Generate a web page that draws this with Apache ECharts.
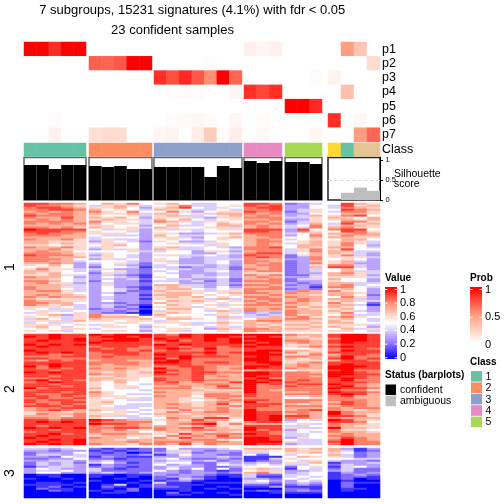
<!DOCTYPE html>
<html><head><meta charset="utf-8">
<script src="https://cdn.jsdelivr.net/npm/echarts@6/dist/echarts.min.js"></script>
<style>html,body{margin:0;padding:0;background:#fff}#c{width:504px;height:504px}</style>
</head><body><div id="c"></div>
<script>
// Heatmap rows. Each digit is a value in tenths (A = 1.0); spaces separate sample groups.
const slice1 = [
"99887 57685 6754455 998 234 5976","98876 46764 5684456 989 335 4967","89987 66753 6795465 899 335 4876",
"88998 75654 7654454 889 346 5987","78787 86585 5863566 988 246 4886","87887 76674 7656477 878 335 5776",
"98887 65564 6744567 787 347 6895","87797 76753 6664366 888 446 7657","78787 67664 7575456 778 336 6767",
"88887 86654 8764665 887 246 5886","87878 75664 6654576 878 347 4967","77777 66553 5744577 787 458 6776",
"88786 76564 7655664 787 448 7866","A9999 54663 6464566 999 395 8995","99988 65543 5554555 998 386 5986",
"89887 66653 6633467 888 457 7787","88877 54443 7544556 788 358 6877","77777 45553 6643567 778 557 7766",
"87786 46443 5654565 787 456 5775","77666 36542 6533455 788 567 6764","77676 66653 5664665 787 467 6864",
"66566 56753 5555465 787 577 6853","87786 46553 6744543 889 576 7754","77866 36463 7644554 888 468 6955",
"78775 55564 4553663 788 468 7744","88876 46553 5553354 899 457 7643","98886 36543 6644543 988 267 6843",
"88777 46543 5543443 898 238 6664","88875 36453 6533444 877 338 5653","88774 55543 6433453 887 237 6743",
"77873 45642 5633453 878 238 6733","65753 35432 4544343 788 236 8843","56653 25541 4423342 778 237 9943",
"68664 46332 5443442 878 234 5753","77654 35632 4533453 788 234 5744","76755 26432 5433343 666 233 7864",
"66764 34321 5534343 878 224 7763","87753 35431 6534453 787 336 6664","77654 34342 5443342 778 244 7553",
"88754 25331 4434242 888 233 6553","78663 34332 5533343 778 323 7744","77744 36332 7744342 887 232 7845",
"87764 35321 6764353 778 331 8854","87754 35431 6775454 888 232 6753","78864 35422 7666466 877 387 8653",
"77765 34232 6776567 887 877 7763","78776 35331 7775656 778 776 7752","87877 34332 6767565 887 877 5863",
"76666 34331 6666474 788 787 7743","87766 35332 5767656 878 787 6764","88775 33232 7666565 787 876 8652",
"87674 34321 5765646 888 776 7741","66654 34230 6664565 777 867 7653","65464 23321 5775656 878 776 6753",
"56645 33230 4665474 877 877 7643","46556 32210 6765566 343 877 6854","56736 86651 7555465 434 867 5744",
"65646 87775 6665574 447 786 7865","47546 76667 5776546 577 887 6754","66647 66566 4655565 788 776 7654",
"45465 55665 6664476 767 667 7755","66656 46554 5564565 776 776 6664","67545 56653 6555464 767 667 7653",
"56566 45554 5665376 887 776 5746","65645 56653 5645565 877 666 6654"
];
const slice2 = [
"99A99 A9AAA 98A9AAA AAA 877 9AA9","A9A99 9AA9A 99A9AA9 9A9 767 9AA9","99A9A 99AA9 A999A9A AAA 776 8AA9",
"9A99A 9AAA9 9A89A9A 9AA 887 9AA9","99999 A9999 899999A A9A 787 9A99","A9A9A 99999 A9A9999 9AA 667 8999",
"9A999 89998 9989989 A99 678 9A99","99999 98988 9A98A88 999 556 8998","A9999 99989 8988988 9AA 776 8A99",
"9A9A9 89998 9999A89 AA9 867 9999","99889 88998 A998988 AAA 668 7998","88899 89888 99A9998 9A9 887 8A88",
"99888 88888 A8A8888 AA9 767 9A89","87989 78877 9A98888 AA9 666 7998","99999 88887 AA98998 9AA 678 9999",
"99A99 87887 9998888 99A 787 9A99","A8A99 77777 8899877 AA9 787 AAA9","98989 87876 A889878 A99 877 AA99",
"99899 77766 9989877 788 566 9A88","A9A99 76767 A889988 AA9 887 AA98","99999 87766 9989877 AA9 888 AA99",
"99899 66766 8889787 A99 887 A998","88999 77665 9889777 9A8 888 9A98","9A898 76765 9889887 A9A 898 9A88",
"89A99 65755 8978779 AA9 988 9998","99899 65654 8877887 A89 899 A987","99989 65665 7787797 A88 988 9A87",
"A8999 75645 8886788 A88 888 A998","89999 65554 7777666 A87 888 9886","99989 86555 8776777 A88 778 A998",
"98899 76544 7776887 988 888 9A97","99898 76655 8775888 988 667 8977","89889 65664 7766787 888 556 8877",
"98998 66544 7765678 998 888 8887","98899 67555 7766787 A88 887 7987","89898 66544 7876796 999 767 8987",
"99989 65444 7776778 998 888 7887","78899 66445 7877786 988 777 8788","78987 76654 6686787 A88 789 8767",
"67767 65645 6877887 A99 887 A877","68778 66654 7767777 A99 787 A876","77768 76445 6776767 A9A 997 9986",
"88788 65544 5877996 A9A 887 8777","99899 A9877 6769775 A9A 354 A976","9A9A9 98888 5778866 899 455 9985",
"99999 A9987 5789A68 777 564 8776","98999 87887 7767866 999 445 8766","A9A9A 88998 8789776 A99 644 A776",
"99899 87866 8778877 A89 355 8665","89999 87775 6767676 998 454 8776","99A89 78877 6697888 A98 445 7877",
"9A999 67766 5878797 999 445 8877","A9999 87756 8697788 AA9 365 7987","99A9A 77677 7778865 AA9 544 8A87",
"9A99A 77787 8887887 AAA 644 9A88","A9A9A 87768 8796877 A99 344 8A88"
];
const slice3 = [
"44345 21212 2533345 777 767 7313","33233 12122 2463233 665 766 7412","23335 21201 3442332 445 667 6523",
"24434 22223 1353322 525 455 7423","33254 13211 3343343 111 576 6423","22335 22122 4532232 114 655 5544",
"33443 34222 3443423 123 546 4332","24342 45312 4552243 343 667 1334","24343 13222 5343254 454 445 2433",
"13443 23212 3433223 555 256 1453","35433 42122 3535252 674 154 2422","34453 42222 5323212 566 334 3422",
"35533 34323 3323323 786 345 1323","01100 11011 3233211 422 445 1232","00100 10010 2332101 411 454 1221",
"10010 00100 2143100 332 545 1201","00000 10001 1231000 453 354 0100","01101 00010 4110111 442 343 0211",
"11110 01401 2111000 221 232 0200","01201 02101 2210010 113 111 0200","02110 01020 1110101 000 221 0110",
"00210 10120 0010000 121 232 0100","00000 01100 0201010 001 111 0000","00000 00000 0110001 000 000 0000",
"00000 00000 0000000 000 000 0000"
];
const probLabels = ["p1","p2","p3","p4","p5","p6","p7"];
const p1 = [1,1,.85,1,1, 0,0,0,0,0, 0,0,0,0,0,0,0, .08,.05,.07, 0,0,0, 0,.5,.3,0];
const p2 = [0,0,0,0,0, .7,.68,.72,1,1, 0,0,0,0,.02,0,0, 0,0,0, 0,0,0, 0,0,0,.18];
const p3 = [0,0,0,0,0, 0,0,0,0,0, .85,.75,.87,.72,.55,1,.68, 0,0,0, 0,0,.02, .06,0,0,0];
const p4 = [0,0,0,0,0, 0,0,0,0,0, 0,.02,.03,.02,0,0,.05, .85,.78,.85, 0,0,0, 0,.33,0,0];
const p5 = [0,0,0,0,0, 0,0,0,0,0, 0,0,0,0,0,0,0, 0,0,0, 1,1,.87, 0,0,0,0];
const p6 = [0,0,.02,0,0, 0,0,0,0,0, 0,.02,.03,.04,.02,0,.05, 0,.02,0, 0,0,0, .85,0,.04,0];
const p7 = [0,0,.07,0,0, .17,.19,.18,0,0, .05,.06,0,.09,.27,.02,.09, 0,.04,0, 0,0,.05, 0,0,.5,.68];
const classOf = [1,1,1,1,1, 2,2,2,2,2, 3,3,3,3,3,3,3, 4,4,4, 5,5,5, 6,1,7,7];
const silhouette = [.875,.875,.775,.875,.875, .85,.825,.85,.775,.775, .825,.825,.825,.825,.575,.85,.8, .975,.925,.975, .95,.95,.9, 0,.18,.31,.23];
const silhouetteTicks = [0,0.5,1];
const groupSizes = [5,5,7,3,3,4];
const classColors = ["#66C2A5","#FC8D62","#8DA0CB","#E78AC3","#A6D854","#FFD92F","#E5C494"];
const legendValueTicks = ["1","0.8","0.6","0.4","0.2","0"];
const legendProbTicks = ["1","0.5","0"];
const legendClassLabels = ["1","2","3","4","5"];
const legendStatus = [["confident","#000000"],["ambiguous","#BEBEBE"]];

const FONT = "'Liberation Sans'";
const panelX = [[24,86],[89,152],[154,242],[244,282],[285,322],[328,380]];
const valueStops = ["#0000ff","#a587ff","#ffffff","#ff9e81","#ff0000"];
const probStops = ["#ffffff","#ff9e81","#ff0000"];
const decode = rows => rows.map(r => r.replace(/ /g,"").split("").map(ch => ch === "A" ? 1 : +ch / 10));
const probRows = [p1,p2,p3,p4,p5,p6,p7];
const bands = [[decode(slice1),203,332],[decode(slice2),334,445],[decode(slice3),448,498]];

const grids=[],xAxes=[],yAxes=[],series=[];
const valueIdx=[],probIdx=[],classIdx=[];
function addPanel(gi,top,bottom,nx,yCfg,xCfg){
  const [l,r]=panelX[gi];
  grids.push(Object.assign({left:l,width:r-l,top:top,height:bottom-top,containLabel:false},xCfg||{}));
  xAxes.push({type:"category",gridIndex:grids.length-1,data:Array.from({length:nx},(_,i)=>i),show:false,boundaryGap:true});
  yAxes.push(Object.assign({gridIndex:grids.length-1,show:false},yCfg));
  return grids.length-1;
}
let off=0;
groupSizes.forEach((n,gi)=>{
  const cols=Array.from({length:n},(_,i)=>i+off);
  const last=gi===groupSizes.length-1;
  let g=addPanel(gi,42,142,n,{type:"category",inverse:true,data:probLabels,show:last,position:"right",axisLine:{show:false},axisTick:{show:false},
    axisLabel:{show:true,interval:0,fontFamily:FONT,fontSize:12.5,color:"#000",margin:2}});
  const pd=[];probRows.forEach((row,ri)=>cols.forEach((c,ci)=>pd.push([ci,ri,row[c]])));
  probIdx.push(series.length);
  series.push({type:"heatmap",xAxisIndex:g,yAxisIndex:g,data:pd,progressive:0,silent:true,animation:false});
  g=addPanel(gi,143,156.5,n,{type:"category",data:["Class"],show:last,position:"right",axisLine:{show:false},axisTick:{show:false},
    axisLabel:{show:true,interval:0,fontFamily:FONT,fontSize:12.5,color:"#000",margin:2}});
  classIdx.push(series.length);
  series.push({type:"heatmap",xAxisIndex:g,yAxisIndex:g,data:cols.map((c,ci)=>[ci,0,classOf[c]]),progressive:0,silent:true,animation:false});
  g=addPanel(gi,157.5,200,n,{type:"value",min:0,max:1.0625,show:last,position:"right",splitLine:{show:false},
    axisLine:{show:true,lineStyle:{color:"#000",width:1}},axisTick:{show:true,length:3,customValues:silhouetteTicks,lineStyle:{color:"#000"}},
    axisLabel:{show:true,customValues:silhouetteTicks,fontFamily:FONT,fontSize:7.5,color:"#000",margin:5.5}},
    {show:true,borderColor:last?"#222":"#666",borderWidth:1.5,backgroundColor:"#fff"});
  const s={type:"bar",xAxisIndex:g,yAxisIndex:g,data:cols.map(c=>silhouette[c]),barCategoryGap:"0%",silent:true,animation:false,
    itemStyle:{color:last?"#BEBEBE":"#000"}};
  if(last) s.markLine={silent:true,symbol:"none",animation:false,label:{show:false},lineStyle:{color:"#ddd",type:"dashed",width:1},data:[{yAxis:.5}]};
  series.push(s);
  bands.forEach(([rows,t,b])=>{
    const gg=addPanel(gi,t,b,n,{type:"category",inverse:true,data:rows.map((_,i)=>i)});
    const d=[];rows.forEach((row,ri)=>cols.forEach((c,ci)=>d.push([ci,ri,row[c]])));
    valueIdx.push(series.length);
    series.push({type:"heatmap",xAxisIndex:gg,yAxisIndex:gg,data:d,progressive:0,silent:true,animation:false});
  });
  off+=n;
});

const T=(x,y,text,o)=>Object.assign({type:"text",x:x,y:y,silent:true,style:Object.assign({text:text,fontFamily:FONT,fontSize:10.5,fill:"#000",align:"left",verticalAlign:"middle"},o||{})});
const R=(x,y,w,h,fill)=>({type:"rect",silent:true,shape:{x:x,y:y,width:w,height:h},style:{fill:fill}});
const grad=(stops)=>new echarts.graphic.LinearGradient(0,0,0,1,stops.slice().reverse().map((c,i,a)=>({offset:i/(a.length-1),color:c})));
const gfx=[];
gfx.push(T(192.3,10,"7 subgroups, 15231 signatures (4.1%) with fdr < 0.05",{align:"center",fontSize:13}));
gfx.push(T(172.5,30,"23 confident samples",{align:"center",fontSize:13}));
[["1",10,267],["2",10,389],["3",10,473]].forEach(([t,x,y])=>gfx.push({type:"text",x:x,y:y,rotation:Math.PI/2,silent:true,style:{text:t,fontFamily:FONT,fontSize:14,fill:"#000",align:"center",verticalAlign:"middle"}}));
gfx.push(T(394,174,"Silhouette",{fontSize:10.5}),T(394,184.5,"score",{fontSize:10.5}));
gfx.push(T(385,278,"Value",{fontWeight:"bold",fontSize:10}));
gfx.push(R(385,287,12,72,grad(valueStops)));
legendValueTicks.forEach((t,i)=>{const y=289.5+i*13.65;
  gfx.push(T(400,y,t,{fontSize:11}),R(385,y-.5,2.5,1,"#fff"),R(394.5,y-.5,2.5,1,"#fff"));});
gfx.push(T(470,278,"Prob",{fontWeight:"bold",fontSize:10}));
gfx.push(R(470,287,12,56,grad(probStops)));
legendProbTicks.forEach((t,i)=>{const y=289.5+i*27.75;
  gfx.push(T(485,y,t,{fontSize:11}),R(470,y-.5,2.5,1,"#fff"),R(479.5,y-.5,2.5,1,"#fff"));});
gfx.push(T(470,362,"Class",{fontWeight:"bold",fontSize:10}));
legendClassLabels.forEach((t,i)=>{const y=371+i*11.4;
  gfx.push(R(471,y,11,10.6,classColors[i]),T(485.5,y+6,t,{fontSize:10.5}));});
gfx.push(T(385,375,"Status (barplots)",{fontWeight:"bold",fontSize:10}));
legendStatus.forEach(([t,c],i)=>{const y=384.5+i*11.2;
  gfx.push(R(385.5,y,10.5,10.5,c),T(400,y+5.5,t,{fontSize:10.5}));});

const chart=echarts.init(document.getElementById("c"),null,{renderer:"canvas",width:504,height:504});
chart.setOption({
  animation:false,backgroundColor:"#fff",grid:grids,xAxis:xAxes,yAxis:yAxes,series:series,graphic:{elements:gfx},
  visualMap:[
    {show:false,type:"continuous",min:0,max:1,dimension:2,seriesIndex:valueIdx,inRange:{color:valueStops}},
    {show:false,type:"continuous",min:0,max:1,dimension:2,seriesIndex:probIdx,inRange:{color:probStops}},
    {show:false,type:"piecewise",dimension:2,seriesIndex:classIdx,pieces:classColors.map((c,i)=>({value:i+1,color:c}))}
  ]
});
</script></body></html>
